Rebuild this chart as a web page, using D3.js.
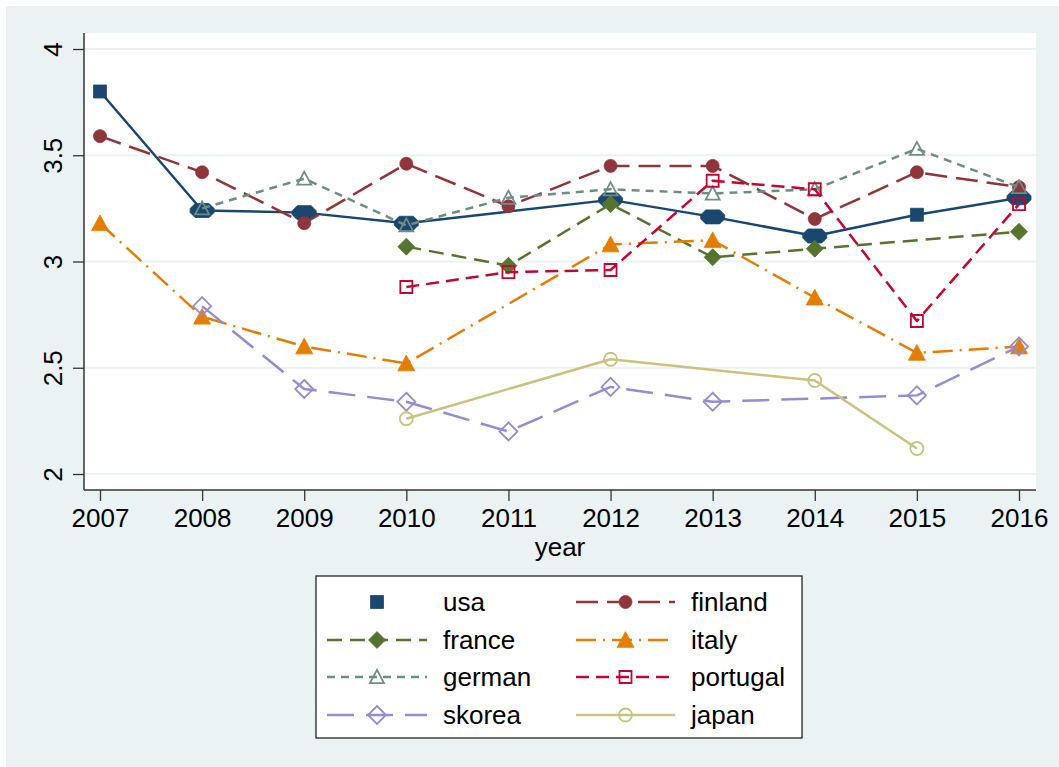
<!DOCTYPE html>
<html>
<head>
<meta charset="utf-8">
<script src="https://cdn.jsdelivr.net/npm/d3@7"></script>
<style>
  html, body { margin: 0; padding: 0; background: #ffffff; }
  svg { display: block; font-family: "Liberation Sans", Arial, Helvetica, sans-serif; }
</style>
</head>
<body>
<svg id="chart" width="1059" height="767"></svg>
<script>
// ---- data -------------------------------------------------------------
const years = [2007, 2008, 2009, 2010, 2011, 2012, 2013, 2014, 2015, 2016];
const yTicks = [2, 2.5, 3, 3.5, 4];
const xTicks = years;

const usa      = [3.80, 3.24, 3.23, 3.18, null, 3.29, 3.21, 3.12, 3.22, 3.30];
const finland  = [3.59, 3.42, 3.18, 3.46, 3.26, 3.45, 3.45, 3.20, 3.42, 3.35];
const france   = [null, null, null, 3.07, 2.98, 3.27, 3.02, 3.06, null, 3.14];
const italy    = [3.18, 2.74, 2.60, 2.52, null, 3.08, 3.10, 2.83, 2.57, 2.60];
const german   = [null, 3.25, 3.39, 3.17, 3.30, 3.34, 3.32, 3.34, 3.53, 3.35];
const portugal = [null, null, null, 2.88, 2.95, 2.96, 3.38, 3.34, 2.72, 3.27];
const skorea   = [null, 2.79, 2.40, 2.34, 2.20, 2.41, 2.34, null, 2.37, 2.60];
const japan    = [null, null, null, 2.26, null, 2.54, null, 2.44, 2.12, null];

const seriesNames = ["usa", "finland", "france", "italy", "german", "portugal", "skorea", "japan"];
const seriesValues = [usa, finland, france, italy, german, portugal, skorea, japan];

// ---- styling (Stata s2color look) -------------------------------------
const styles = {
  usa:      { color: "#1A476F", dash: null,          shape: "square",   size: 13, hollow: false, wideAt: [2008, 2009, 2010, 2012, 2013, 2014, 2016], legendLine: false },
  finland:  { color: "#90353B", dash: "22,9",        shape: "circle",   size: 13, hollow: false },
  france:   { color: "#55752F", dash: "15,8",        shape: "diamond",  size: 17, hollow: false },
  italy:    { color: "#E37E00", dash: "20,7,2,7",    shape: "triangle", size: 17, hollow: false },
  german:   { color: "#6E8E84", dash: "8,6",         shape: "triangle", size: 14, hollow: true },
  portugal: { color: "#C10534", dash: "13,7",        shape: "square",   size: 12, hollow: true },
  skorea:   { color: "#938DD2", dash: "27,12",       shape: "diamond",  size: 18, hollow: true },
  japan:    { color: "#CAC27E", dash: null,          shape: "circle",   size: 13, hollow: true }
};

const bg = "#EAF2F3";

// marker path generator, centred on (0,0)
function markerPath(shape, s) {
  const p = d3.path();
  if (shape === "square") {
    p.rect(-s / 2, -s / 2, s, s);
  } else if (shape === "circle") {
    p.moveTo(s / 2, 0);
    p.arc(0, 0, s / 2, 0, 2 * Math.PI);
  } else if (shape === "triangle") {
    const h = s * 0.866;
    p.moveTo(0, -h / 2 - 1);
    p.lineTo(s / 2, h / 2);
    p.lineTo(-s / 2, h / 2);
  } else if (shape === "diamond") {
    const d = s / 2;
    p.moveTo(0, -d); p.lineTo(d, 0); p.lineTo(0, d); p.lineTo(-d, 0);
  } else if (shape === "wide") {
    const w = 24, h = 14;
    p.moveTo(-w / 2, -2);
    p.lineTo(-w / 2 + 5, -h / 2);
    p.lineTo(w / 2 - 5, -h / 2);
    p.lineTo(w / 2, -2);
    p.lineTo(w / 2, 2);
    p.lineTo(w / 2 - 5, h / 2);
    p.lineTo(-w / 2 + 5, h / 2);
    p.lineTo(-w / 2, 2);
  }
  p.closePath();
  return p.toString();
}

// ---- layout -----------------------------------------------------------
const svg = d3.select("#chart");
const W = 1059, H = 767;
const plot = { left: 84, right: 1036, top: 33, bottom: 490 };

const x = d3.scaleLinear().domain([2007, 2016]).range([100, 1019]);
const y = d3.scaleLinear().domain([2, 4]).range([474, 49]);

// graph region
svg.append("rect").attr("x", 6).attr("y", 6).attr("width", W - 6).attr("height", H - 6).attr("fill", bg);
// plot region
svg.append("rect")
  .attr("x", plot.left).attr("y", plot.top)
  .attr("width", plot.right - plot.left).attr("height", plot.bottom - plot.top)
  .attr("fill", "#ffffff");

// gridlines
svg.append("g").selectAll("line").data(yTicks).join("line")
  .attr("x1", plot.left).attr("x2", plot.right)
  .attr("y1", d => y(d)).attr("y2", d => y(d))
  .attr("stroke", bg).attr("stroke-width", 2);

// y axis
const yAxis = d3.axisLeft(y).tickValues(yTicks).tickSize(11).tickPadding(0).tickFormat(d3.format("~g"));
const gy = svg.append("g").attr("transform", `translate(${plot.left},0)`).call(yAxis);
gy.select(".domain").remove();
gy.selectAll(".tick line").attr("stroke", "#333").attr("stroke-width", 1.3);
gy.selectAll(".tick text")
  .attr("font-size", 26).attr("fill", "#000")
  .attr("text-anchor", "middle")
  .attr("x", null).attr("dy", null)
  .attr("transform", "translate(-22,0) rotate(-90)");
svg.append("line").attr("x1", plot.left).attr("x2", plot.left)
  .attr("y1", plot.top).attr("y2", plot.bottom)
  .attr("stroke", "#333").attr("stroke-width", 1.5);

// x axis
const xAxis = d3.axisBottom(x).tickValues(xTicks).tickSize(11).tickPadding(8).tickFormat(d3.format("d"));
const gx = svg.append("g").attr("transform", `translate(0,${plot.bottom})`).call(xAxis);
gx.select(".domain").remove();
gx.selectAll(".tick line").attr("stroke", "#333").attr("stroke-width", 1.3);
gx.selectAll(".tick text").attr("font-size", 26).attr("fill", "#000");
svg.append("line").attr("x1", plot.left).attr("x2", plot.right)
  .attr("y1", plot.bottom).attr("y2", plot.bottom)
  .attr("stroke", "#333").attr("stroke-width", 1.5);

svg.append("text")
  .attr("x", (plot.left + plot.right) / 2).attr("y", 556)
  .attr("text-anchor", "middle").attr("font-size", 26).attr("fill", "#000")
  .text("year");

// ---- series -----------------------------------------------------------
const line = d3.line().x(d => x(d.year)).y(d => y(d.value));
const gSeries = svg.append("g");

seriesNames.forEach((name, i) => {
  const st = styles[name];
  const pts = years.map((yr, j) => ({ year: yr, value: seriesValues[i][j] }))
    .filter(d => d.value !== null);
  const g = gSeries.append("g");
  g.append("path")
    .attr("d", line(pts))
    .attr("fill", "none")
    .attr("stroke", st.color)
    .attr("stroke-width", 2.5)
    .attr("stroke-dasharray", st.dash)
    .attr("stroke-linejoin", "round");
  g.selectAll("path.mk").data(pts).join("path")
    .attr("class", "mk")
    .attr("transform", d => `translate(${x(d.year)},${y(d.value)})`)
    .attr("d", d => (st.wideAt && st.wideAt.includes(d.year)) ? markerPath("wide") : markerPath(st.shape, st.size))
    .attr("fill", st.hollow ? "none" : st.color)
    .attr("stroke", st.color)
    .attr("stroke-width", st.hollow ? 1.8 : 0.8);
});

// ---- legend -----------------------------------------------------------
const legend = { x: 316, y: 576, w: 486, h: 162 };
svg.append("rect")
  .attr("x", legend.x).attr("y", legend.y).attr("width", legend.w).attr("height", legend.h)
  .attr("fill", "#ffffff").attr("stroke", "#111").attr("stroke-width", 1.2);

const colKey = [{ x1: 327, x2: 427, text: 443 }, { x1: 576, x2: 675, text: 691 }];
const rowY = [602, 640, 677, 715];

seriesNames.forEach((name, i) => {
  const st = styles[name];
  const c = colKey[i % 2];
  const ry = rowY[Math.floor(i / 2)];
  const cx = (c.x1 + c.x2) / 2;
  const g = svg.append("g");
  if (st.legendLine !== false) {
    g.append("line")
      .attr("x1", c.x1).attr("x2", c.x2).attr("y1", ry).attr("y2", ry)
      .attr("stroke", st.color).attr("stroke-width", 2.5)
      .attr("stroke-dasharray", st.dash);
  }
  g.append("path")
    .attr("transform", `translate(${cx},${ry})`)
    .attr("d", markerPath(st.shape, st.size))
    .attr("fill", st.hollow ? "none" : st.color)
    .attr("stroke", st.color)
    .attr("stroke-width", st.hollow ? 1.8 : 0.8);
  g.append("text")
    .attr("x", c.text).attr("y", ry + 9)
    .attr("font-size", 26).attr("fill", "#000")
    .text(name);
});
</script>
</body>
</html>
